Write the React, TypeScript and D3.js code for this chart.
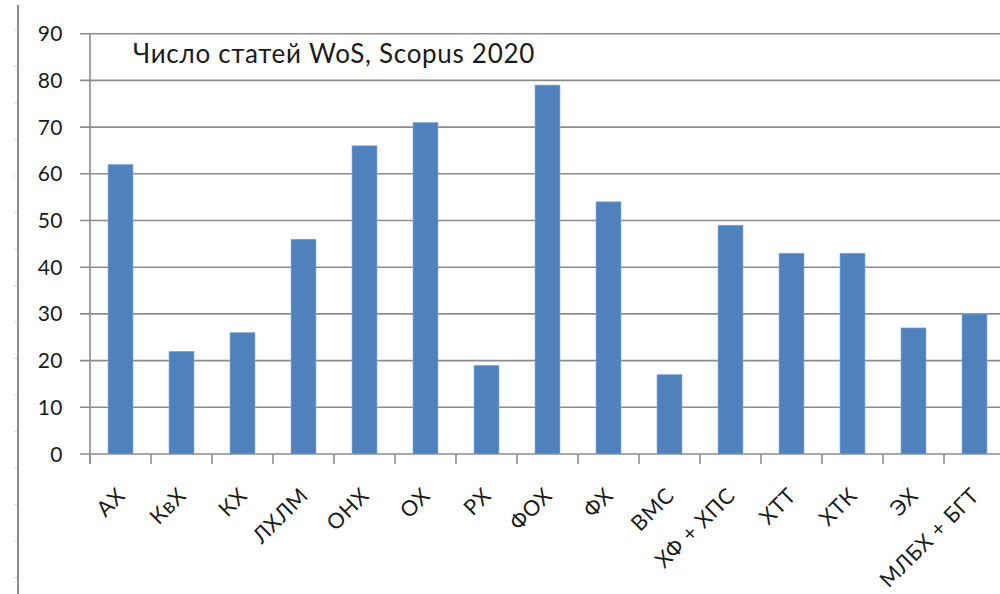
import React from "react";
import * as d3 from "d3";

const categories = ["АХ", "КвХ", "КХ", "ЛХЛМ", "ОНХ", "ОХ", "РХ", "ФОХ", "ФХ", "ВМС", "ХФ + ХПС", "ХТТ", "ХТК", "ЭХ", "МЛБХ + БГТ"];
const values = [62, 22, 26, 46, 66, 71, 19, 79, 54, 17, 49, 43, 43, 27, 30];
const yTicks = [0, 10, 20, 30, 40, 50, 60, 70, 80, 90];
const title = "Число статей WoS, Scopus 2020";

const W = 1000;
const H = 594;
const FONT = "Lato, 'Open Sans', sans-serif";

export default function App() {
  const x = d3
    .scaleBand<string>()
    .domain(categories)
    .range([90, 1005])
    .paddingInner(0.59)
    .paddingOuter(0.295);
  const band = d3.scaleBand<string>().domain(categories).range([90, 1005]).padding(0);
  const y = d3.scaleLinear().domain([0, 90]).range([454, 33.7]);

  const grid = "#8c8c8c";
  const boundaries = categories.map((c) => band(c) as number).concat([1005]);

  return (
    <div style={{ position: "absolute", left: 0, top: 0, width: W, height: H, overflow: "hidden", background: "#fff" }}>
      <svg width={W} height={H} style={{ display: "block" }}>
        <rect x={0} y={0} width={W} height={H} fill="#fff" />
        <line x1={18} x2={18} y1={5} y2={H} stroke="#8a8a8a" strokeWidth={2} />
        {d3.range(30, H, 36.5).map((v, i) => (
          <line key={"m" + i} x1={14} x2={17} y1={v} y2={v} stroke="#d8d8d8" strokeWidth={1} />
        ))}
        {yTicks.map((t) => (
          <g key={"g" + t}>
            <line x1={80} x2={W} y1={y(t)} y2={y(t)} stroke={grid} strokeWidth={1.6} />
            <text
              x={63}
              y={y(t)}
              dy="0.36em"
              textAnchor="end"
              fontFamily={FONT}
              fontSize={21}
              letterSpacing={0.5}
              fill="#1a1a1a"
            >
              {t}
            </text>
          </g>
        ))}
        <line x1={90} x2={90} y1={y(90)} y2={y(0) + 10} stroke={grid} strokeWidth={1.6} />
        {boundaries.map((b, i) => (
          <line key={"t" + i} x1={b} x2={b} y1={y(0)} y2={y(0) + 10} stroke={grid} strokeWidth={1.6} />
        ))}
        {categories.map((c, i) => (
          <rect
            key={"b" + c}
            x={x(c) as number}
            y={y(values[i])}
            width={x.bandwidth()}
            height={y(0) - y(values[i])}
            fill="#4f81bd"
            stroke="#8fb0dc"
            strokeWidth={0.6}
          />
        ))}
        {categories.map((c) => {
          const cx = (band(c) as number) + band.bandwidth() / 2;
          return (
            <text
              key={"l" + c}
              transform={`translate(${cx + 6},${497}) rotate(-45)`}
              textAnchor="end"
              fontFamily={FONT}
              fontSize={21.5}
              letterSpacing={0.6}
              fill="#1a1a1a"
            >
              {c}
            </text>
          );
        })}
        <text x={133} y={63} fontFamily={FONT} fontSize={26} letterSpacing={0.7} fill="#1a1a1a">
          {title}
        </text>
      </svg>
    </div>
  );
}
